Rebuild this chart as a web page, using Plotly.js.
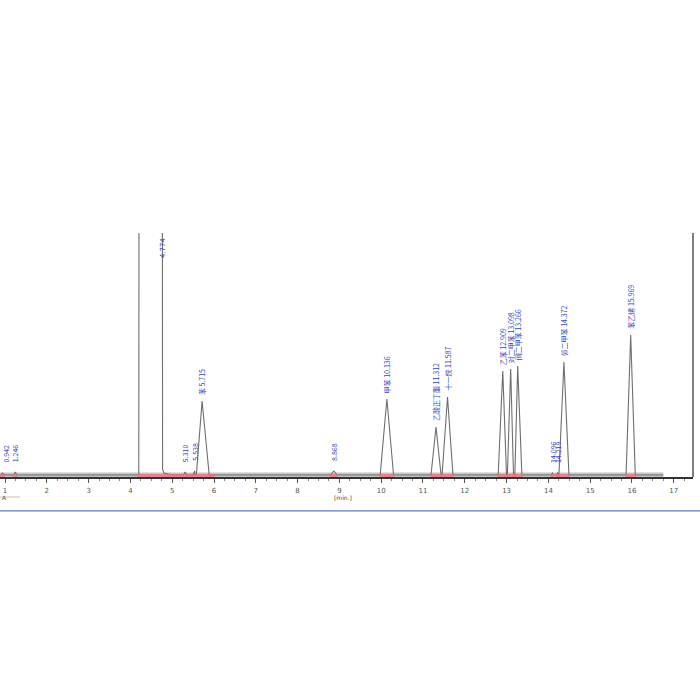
<!DOCTYPE html>
<html>
<head>
<meta charset="utf-8">
<script src="https://cdn.plot.ly/plotly-3.0.1.min.js"></script>
<style>html,body{margin:0;padding:0;background:#fff;}#chart{width:700px;height:700px;}</style>
</head>
<body>
<div id="chart"></div>
<script>
// Peak table (retention time in min, height in signal units)
const peakTimes      = [0.942, 1.246, 5.310, 5.538, 5.715, 8.868, 10.136, 11.312, 11.587, 12.909, 13.098, 13.266, 14.096, 14.219, 14.372, 15.969];
const peakHeights    = [2, 3, 3, 4, 74, 4, 76, 48, 78, 104, 106, 109, 2, 2, 113, 140];
const peakHalfWidths = [0.04, 0.04, 0.04, 0.04, 0.17, 0.08, 0.16, 0.12, 0.13, 0.11, 0.10, 0.10, 0.03, 0.03, 0.12, 0.11];
const peakNames      = ["", "", "", "", "苯", "", "甲苯", "乙酸正丁酯", "十一烷", "乙苯", "对二甲苯", "间二甲苯", "", "", "邻二甲苯", "苯乙烯"];
const peakLabels     = ["0.942", "1.246", "5.310", "5.538", "5.715", "8.868", "10.136", "11.312", "11.587", "12.909", "13.098", "13.266", "14.096", "14.219", "14.372", "15.969"];

// Solvent peak (saturated, off scale)
const solventTimes  = [4.20, 4.22, 4.75, 4.77, 4.80, 4.90, 5.05];
const solventSignal = [2, 1000, 1000, 8, 4, 3, 2];
const solventLabel  = "4.774";

// Signal run and integration windows
const runStart = 0.88, runEnd = 16.75;
const baseLevel = 2;
const solventWindow = [4.16, 6.02];

const xTicks = [1,2,3,4,5,6,7,8,9,10,11,12,13,14,15,16,17];

// Build chromatogram trace from the peak table
const pts = [];
pts.push([runStart, baseLevel]);
peakTimes.forEach((t, i) => {
  const hw = peakHalfWidths[i];
  pts.push([t - hw, baseLevel]);
  pts.push([t, baseLevel + peakHeights[i]]);
  pts.push([t + hw, baseLevel]);
});
solventTimes.forEach((t, i) => pts.push([t, solventSignal[i]]));
pts.push([runEnd, baseLevel]);
pts.sort((a, b) => a[0] - b[0]);

const sigTrace = {
  x: pts.map(p => p[0]), y: pts.map(p => p[1]),
  mode: 'lines', type: 'scatter', hoverinfo: 'skip',
  line: {color: '#6e6e6e', width: 1.1}, cliponaxis: true
};

// integration markers (pink)
const ix = [], iy = [];
ix.push(solventWindow[0], solventWindow[1], null); iy.push(1.5, 1.5, null);
peakTimes.forEach((t, i) => {
  if (t > solventWindow[0] && t < solventWindow[1]) return;
  ix.push(t - peakHalfWidths[i] - 0.02, t + peakHalfWidths[i] + 0.02, null);
  iy.push(1.5, 1.5, null);
});
const intTrace = {
  x: ix, y: iy, mode: 'lines', type: 'scatter', hoverinfo: 'skip',
  line: {color: 'rgba(240,110,120,0.75)', width: 3}
};

const blue = '#2f43c4';
const annotations = peakTimes.map((t, i) => ({
  x: t, y: baseLevel + peakHeights[i], xref: 'x', yref: 'y',
  text: (peakNames[i] ? peakNames[i] + ' ' : '') + peakLabels[i],
  textangle: -90, showarrow: false, xanchor: 'center', yanchor: 'bottom',
  yshift: peakHeights[i] > 10 ? 4 : 8, xshift: i === 0 ? 3 : 0,
  font: {family: 'Noto Sans CJK SC, DejaVu Sans', size: 7, color: blue}
}));
annotations.push({
  x: solventTimes[3], y: 1, xref: 'x', yref: 'paper', text: solventLabel,
  textangle: -90, showarrow: false, xanchor: 'center', yanchor: 'top', yshift: -2,
  font: {family: 'DejaVu Sans', size: 7, color: blue}
});
annotations.push({
  x: 9.09, y: -0.108, xref: 'x', yref: 'paper', text: '[min.]', showarrow: false,
  font: {family: 'DejaVu Sans', size: 6, color: '#444'}
});
annotations.push({
  x: 0, y: -0.108, xref: 'paper', yref: 'paper', text: 'A', showarrow: false,
  xanchor: 'left', font: {family: 'DejaVu Sans', size: 6, color: '#555'}
});

const layout = {
  width: 700, height: 700,
  margin: {l: 0, r: 7, t: 233, b: 223, pad: 0},
  paper_bgcolor: '#fff', plot_bgcolor: '#fff',
  showlegend: false,
  xaxis: {
    range: [0.88, 17.46], tickvals: xTicks, ticktext: xTicks.map(String),
    ticks: 'outside', ticklen: 4, tickwidth: 1, tickcolor: '#555',
    ticklabelstandoff: 2,
    showline: true, linecolor: '#333', linewidth: 2, showgrid: false, zeroline: false,
    tickfont: {family: 'DejaVu Sans', size: 7, color: '#555'},
    minor: {dtick: 0.25, ticks: 'outside', ticklen: 2, tickcolor: '#888', showgrid: false}
  },
  yaxis: {range: [0, 244], visible: false, fixedrange: true},
  shapes: [
    {type: 'rect', xref: 'x', yref: 'y', x0: runStart, x1: runEnd, y0: 0, y1: 4.5,
     fillcolor: '#c4c4c4', line: {width: 0}, layer: 'below'},
    {type: 'line', xref: 'paper', yref: 'paper', x0: 1, x1: 1, y0: 0, y1: 1,
     line: {color: '#555', width: 1.5}},
    {type: 'line', xref: 'paper', yref: 'paper', x0: -0.01, x1: 1.02, y0: -0.139, y1: -0.139,
     line: {color: '#5f78d0', width: 1.2}},
    {type: 'line', xref: 'paper', yref: 'paper', x0: 0, x1: 0.029, y0: -0.082, y1: -0.082,
     line: {color: '#c8bfa8', width: 1}}
  ],
  annotations: annotations
};

Plotly.newPlot('chart', [sigTrace, intTrace], layout, {staticPlot: true, displayModeBar: false});
</script>
</body>
</html>
